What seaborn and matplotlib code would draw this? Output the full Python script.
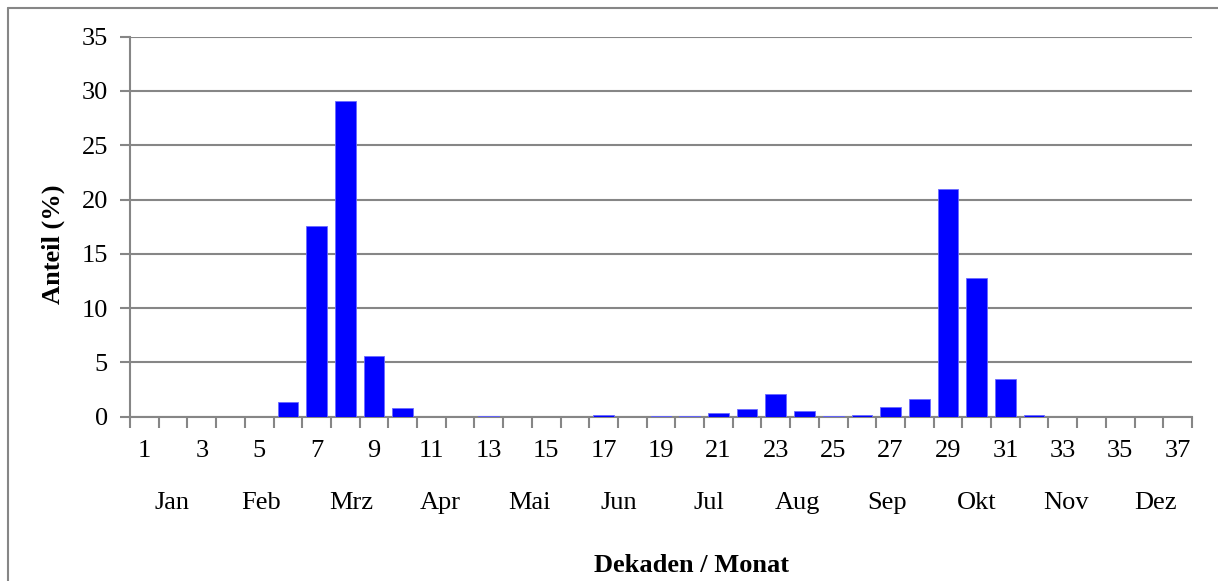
import numpy as np
import pandas as pd
import matplotlib
matplotlib.use('Agg')
import matplotlib.pyplot as plt
import seaborn as sns

# Daten: Anteil je Dekade (1..37)
dekaden = [str(i) for i in range(1, 38)]
anteil = [0, 0, 0, 0, 0, 1.4, 17.6, 29.1, 5.6, 0.8,
          0, 0, 0.03, 0, 0, 0, 0.12, 0, 0.05, 0.1,
          0.3, 0.7, 2.1, 0.55, 0.08, 0.2, 0.92, 1.6, 21.0, 12.8,
          3.44, 0.12, 0, 0, 0, 0, 0]
monate = ['Jan', 'Feb', 'Mrz', 'Apr', 'Mai', 'Jun',
          'Jul', 'Aug', 'Sep', 'Okt', 'Nov', 'Dez']
y_ticks = [0, 5, 10, 15, 20, 25, 30, 35]

df = pd.DataFrame({'dekade': dekaden, 'anteil': anteil})

sns.set_style('white')
plt.rcParams['font.family'] = ['Liberation Serif', 'DejaVu Serif']
plt.rcParams['text.color'] = 'black'

grau = '#868686'
fs = 19

fig = plt.figure(figsize=(12.18, 5.81), dpi=100)
ax = fig.add_axes([130 / 1218, 164.3 / 581, 1062 / 1218, 380 / 581])

sns.barplot(data=df, x='dekade', y='anteil', order=dekaden, color='#0000FF',
            width=0.72, edgecolor='#6A6AFF', linewidth=0.6, saturation=1,
            ax=ax, zorder=3)

ax.set_xlim(-0.5, 36.5)
ax.set_ylim(0, 35)
ax.set_yticks(y_ticks)
ax.set_yticklabels([str(v) for v in y_ticks], fontsize=fs)
ax.yaxis.grid(True, color=grau, linewidth=1.5, zorder=0)

# Beschriftung jede zweite Dekade, Striche an den Grenzen
ax.set_xticks(range(0, 37, 2))
ax.set_xticklabels(dekaden[::2], fontsize=fs)
ax.set_xticks(np.arange(-0.5, 37, 1), minor=True)
ax.tick_params(axis='x', which='major', length=0, pad=17,
               labelcolor='black')
ax.tick_params(axis='x', which='minor', bottom=True, length=8, width=1.5,
               color=grau, direction='out')
ax.tick_params(axis='y', length=7, width=1.5, color=grau, direction='out',
               left=True, pad=9, labelcolor='black')

for s in ['top', 'right']:
    ax.spines[s].set_visible(False)
for s in ['left', 'bottom']:
    ax.spines[s].set_color(grau)
    ax.spines[s].set_linewidth(1.5)

# Monatsnamen unter der Achse
for i, m in enumerate(monate):
    ax.text(0.0395 + i * 0.0842, -0.228, m, transform=ax.transAxes,
            ha='center', va='center', fontsize=fs, color='black')

ax.set_xlabel('')
ax.set_ylabel('')
fig.text(692 / 1218, 1 - 565 / 581, 'Dekaden / Monat', ha='center',
         va='center', fontsize=fs, fontweight='bold', color='black')
fig.text(53 / 1218, 1 - 244 / 581, 'Anteil (%)', ha='center', va='center',
         rotation=90, fontsize=fs, fontweight='bold', color='black')

# Rahmen des Diagrammbereichs
fig.add_artist(plt.Line2D([8 / 1218, 8 / 1218], [0, 1 - 8 / 581],
                          transform=fig.transFigure, color=grau, lw=1.5))
fig.add_artist(plt.Line2D([8 / 1218, 1], [1 - 8 / 581, 1 - 8 / 581],
                          transform=fig.transFigure, color=grau, lw=1.5))

fig.savefig('out.png', dpi=100)
